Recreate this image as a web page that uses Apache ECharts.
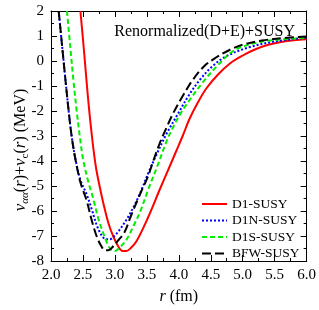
<!DOCTYPE html>
<html><head><meta charset="utf-8">
<script src="https://cdn.jsdelivr.net/npm/echarts@6/dist/echarts.min.js"></script>
<style>html,body{margin:0;padding:0;background:#fff}#c{width:319px;height:310px}</style>
</head><body><div id="c"></div>
<script>
var xTicks = [2.0, 2.5, 3.0, 3.5, 4.0, 4.5, 5.0, 5.5, 6.0];
var yTicks = [-8, -7, -6, -5, -4, -3, -2, -1, 0, 1, 2];
var seriesNames = ['D1-SUSY', 'D1N-SUSY', 'D1S-SUSY', 'BFW-SUSY'];
var titleText = 'Renormalized(D+E)+SUSY';
var yTitle = '{i|v}{s|αα}{n|(}{i|r}{n|)+}{i|v}{c|c}{n|(}{i|r}{n|) (MeV)}';

var rD1  = [2.46, 2.52, 2.58, 2.64, 2.70, 2.76, 2.82, 2.90, 2.98, 3.06, 3.12, 3.18, 3.24, 3.34, 3.52, 3.70, 3.86, 3.96, 4.06, 4.17, 4.30, 4.43, 4.61, 4.80, 5.00, 5.20, 5.40, 5.60, 5.80, 6.00];
var vD1  = [2.0, 0.3, -1.5, -3.0, -4.2, -5.0, -5.7, -6.5, -7.05, -7.45, -7.6, -7.6, -7.5, -7.2, -6.25, -5.15, -4.2, -3.6, -3.0, -2.3, -1.65, -1.1, -0.55, -0.1, 0.22, 0.47, 0.65, 0.76, 0.83, 0.87];

var rD1N = [2.12, 2.17, 2.22, 2.27, 2.32, 2.38, 2.46, 2.56, 2.64, 2.72, 2.80, 2.86, 2.92, 2.98, 3.06, 3.18, 3.30, 3.40, 3.52, 3.65, 3.81, 3.99, 4.15, 4.33, 4.53, 4.75, 5.10, 5.50, 6.00];
var vD1N = [2.0, 0.7, -0.6, -1.85, -2.95, -3.9, -4.75, -5.35, -5.95, -6.6, -7.0, -7.13, -7.13, -7.03, -6.8, -6.35, -5.8, -5.25, -4.5, -3.75, -2.9, -2.1, -1.4, -0.75, -0.2, 0.2, 0.55, 0.78, 0.93];

var rD1S = [2.25, 2.30, 2.35, 2.40, 2.45, 2.50, 2.58, 2.66, 2.74, 2.82, 2.89, 2.94, 3.00, 3.06, 3.18, 3.30, 3.40, 3.52, 3.68, 3.81, 3.92, 4.04, 4.20, 4.36, 4.60, 4.85, 5.10, 5.37, 5.70, 6.00];
var vD1S = [2.0, 0.6, -0.75, -1.95, -3.0, -3.9, -4.8, -5.5, -6.3, -6.9, -7.35, -7.55, -7.6, -7.5, -7.15, -6.55, -6.0, -5.15, -4.1, -3.2, -2.6, -2.05, -1.45, -0.9, -0.2, 0.4, 0.66, 0.8, 0.88, 0.92];

var rBFW = [2.12, 2.17, 2.22, 2.27, 2.32, 2.38, 2.46, 2.56, 2.64, 2.72, 2.79, 2.84, 2.90, 2.96, 3.06, 3.15, 3.25, 3.39, 3.52, 3.60, 3.70, 3.81, 3.91, 4.05, 4.22, 4.40, 4.59, 4.80, 5.00, 5.30, 5.70, 6.00];
var vBFW = [2.0, 0.7, -0.6, -1.85, -2.95, -3.9, -4.85, -5.6, -6.4, -7.05, -7.42, -7.57, -7.57, -7.45, -7.15, -6.85, -6.2, -5.35, -4.6, -4.0, -3.3, -2.65, -2.1, -1.45, -0.75, -0.2, 0.15, 0.45, 0.65, 0.82, 0.93, 0.98];

function pairs(r, v) { return r.map(function (x, i) { return [x, v[i]]; }); }

var font = '"Liberation Serif", "Times New Roman", serif';
var chart = echarts.init(document.getElementById('c'), null, {renderer: 'canvas'});

function xAx(pos, show) {
  return {
    type: 'value', position: pos, min: xTicks[0], max: xTicks[xTicks.length - 1], interval: 0.5,
    axisLine: {show: true, onZero: false, lineStyle: {color: '#000', width: 1}},
    axisTick: {show: true, inside: true, length: 6, lineStyle: {color: '#000'}},
    minorTick: {show: true, splitNumber: 2, length: 3, lineStyle: {color: '#000'}},
    splitLine: {show: false},
    axisLabel: {show: show, color: '#000', fontFamily: font, fontSize: 15, margin: 7,
      formatter: function (v) { return v.toFixed(1); }},
    name: show ? '{i|r} (fm)' : '', nameLocation: 'middle', nameGap: 28,
    nameTextStyle: {color: '#000', fontFamily: font, fontSize: 16,
      rich: {i: {fontStyle: 'italic', fontFamily: font, fontSize: 16, color: '#000'}}}
  };
}
function yAx(pos, show) {
  return {
    type: 'value', position: pos, min: yTicks[0], max: yTicks[yTicks.length - 1], interval: 1,
    axisLine: {show: true, onZero: false, lineStyle: {color: '#000', width: 1}},
    axisTick: {show: true, inside: true, length: 6, lineStyle: {color: '#000'}},
    minorTick: {show: true, splitNumber: 2, length: 3, lineStyle: {color: '#000'}},
    splitLine: {show: false},
    axisLabel: {show: show, color: '#000', fontFamily: font, fontSize: 15, margin: 7}
  };
}

var styles = [
  {color: '#ff0000', type: 'solid'},
  {color: '#0000ff', type: [2, 2]},
  {color: '#00ee00', type: [5, 3]},
  {color: '#000000', type: [9, 4]}
];
var datas = [pairs(rD1, vD1), pairs(rD1N, vD1N), pairs(rD1S, vD1S), pairs(rBFW, vBFW)];

chart.setOption({
  animation: false,
  backgroundColor: '#fff',
  grid: {left: 51, right: 12, top: 11, bottom: 43, containLabel: false},
  xAxis: [xAx('bottom', true), xAx('top', false)],
  yAxis: [yAx('left', true), yAx('right', false)],
  title: {text: titleText, right: 19, top: 19,
    textStyle: {fontFamily: font, fontSize: 16, fontWeight: 'normal', color: '#000'}},
  graphic: [{
    type: 'text', x: 21, y: 150, rotation: Math.PI / 2,
    style: {
      text: yTitle, align: 'center', verticalAlign: 'middle', fill: '#000',
      font: '16px ' + font,
      rich: {
        i: {fontStyle: 'italic', fontFamily: font, fontSize: 17, fill: '#000', lineHeight: 20, verticalAlign: 'middle'},
        n: {fontFamily: font, fontSize: 16, fill: '#000', lineHeight: 20, verticalAlign: 'middle'},
        s: {fontStyle: 'italic', fontFamily: font, fontSize: 11, fill: '#000', lineHeight: 20, verticalAlign: 'bottom'},
        c: {fontFamily: font, fontSize: 11, fill: '#000', lineHeight: 20, verticalAlign: 'bottom'}
      }
    }
  }],
  legend: {orient: 'vertical', left: 196, top: 192, itemWidth: 25, itemHeight: 14, itemGap: 2.5,
    itemStyle: {opacity: 0},
    textStyle: {fontFamily: font, fontSize: 13.5, color: '#000'},
    data: seriesNames},
  series: seriesNames.map(function (n, i) {
    return {
      name: n, type: 'line', data: datas[i], xAxisIndex: 0, yAxisIndex: 0,
      showSymbol: false, symbol: 'none', smooth: 0.35, clip: true,
      lineStyle: {color: styles[i].color, width: 2, type: styles[i].type},
      itemStyle: {color: styles[i].color}
    };
  })
});
</script>
</body></html>
